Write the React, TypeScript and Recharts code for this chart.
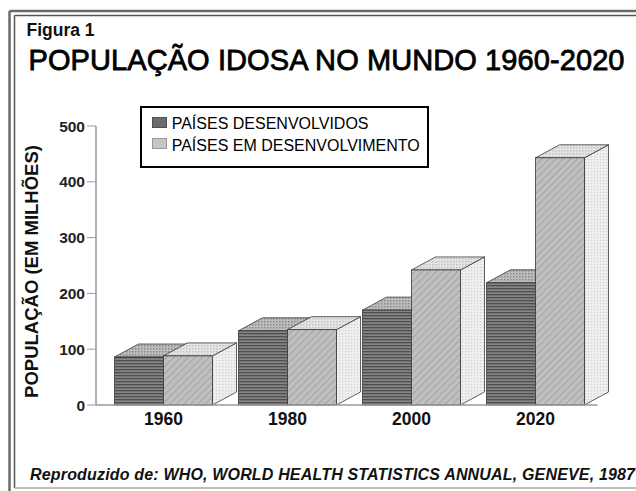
import React from 'react';
import { BarChart, Bar, XAxis, YAxis, Legend } from 'recharts';

const years = ['1960', '1980', '2000', '2020'];
const developed = [86, 133, 170, 219];
const developing = [88, 135, 242, 443];
const yTicks = [0, 100, 200, 300, 400, 500];
const seriesNames = ['PAÍSES DESENVOLVIDOS', 'PAÍSES EM DESENVOLVIMENTO'];

const data = years.map((year, i) => ({
  year,
  developed: developed[i],
  developing: developing[i],
}));

const FONT = 'Arial, "Liberation Sans", sans-serif';
const DX = 24;
const DY = 13;

function Bar3D(props: any) {
  const { x, y, width, height, front, top, side } = props;
  if (x == null || y == null || !width || height == null) return null;
  const stroke = '#3a3a3a';
  const r = x + width;
  return (
    <g>
      <polygon
        points={`${r},${y} ${r + DX},${y - DY} ${r + DX},${y + height - DY} ${r},${y + height}`}
        fill={`url(#${side})`}
        stroke={stroke}
        strokeWidth={0.8}
      />
      <polygon
        points={`${x},${y} ${x + DX},${y - DY} ${r + DX},${y - DY} ${r},${y}`}
        fill={`url(#${top})`}
        stroke={stroke}
        strokeWidth={0.8}
      />
      <rect x={x} y={y} width={width} height={height} fill={`url(#${front})`} stroke={stroke} strokeWidth={0.8} />
    </g>
  );
}

const swatchStyles = [
  { background: '#6c6c6c', border: '1px solid #505050' },
  { background: '#c6c6c6', border: '1px solid #9a9a9a' },
];

const LegendBox = () => (
  <div
    style={{
      width: 289,
      height: 62,
      border: '2px solid #000',
      boxSizing: 'border-box',
      position: 'relative',
      background: '#fff',
      fontFamily: FONT,
      fontSize: 16,
      lineHeight: '16px',
      color: '#000',
    }}
  >
    {seriesNames.map((name, i) => (
      <React.Fragment key={name}>
        <div
          style={{
            position: 'absolute',
            left: 9.7,
            top: i === 0 ? 8.7 : 30.3,
            width: 15,
            height: 11,
            boxSizing: 'border-box',
            ...swatchStyles[i],
          }}
        />
        <div style={{ position: 'absolute', left: 29.7, top: i === 0 ? 7.8 : 30, whiteSpace: 'nowrap' }}>{name}</div>
      </React.Fragment>
    ))}
  </div>
);

export default function App() {
  return (
    <div style={{ position: 'absolute', left: 0, top: 0, width: 636, height: 491, background: '#fff' }}>
      <BarChart
        width={636}
        height={491}
        data={data}
        margin={{ top: 126, right: 38.5, bottom: 56, left: 36 }}
        barGap={0}
        barSize={49}
      >
        <defs>
          <pattern id="devFront" width="4" height="3" patternUnits="userSpaceOnUse">
            <rect width="4" height="3" fill="#858585" />
            <rect width="4" height="1.3" fill="#4e4e4e" />
          </pattern>
          <pattern id="devTop" width="3" height="3" patternUnits="userSpaceOnUse">
            <rect width="3" height="3" fill="#bdbdbd" />
            <rect width="1.5" height="1.5" fill="#8a8a8a" />
          </pattern>
          <pattern id="dvgFront" width="5" height="5" patternUnits="userSpaceOnUse" patternTransform="rotate(45)">
            <rect width="5" height="5" fill="#c0c0c0" />
            <rect width="1.2" height="5" fill="#a6a6a6" />
          </pattern>
          <pattern id="dvgTop" width="3" height="3" patternUnits="userSpaceOnUse">
            <rect width="3" height="3" fill="#e4e4e4" />
            <rect width="1.5" height="1.5" fill="#c2c2c2" />
          </pattern>
          <pattern id="sideFace" width="3" height="3" patternUnits="userSpaceOnUse">
            <rect width="3" height="3" fill="#efefef" />
            <rect width="1.2" height="1.2" fill="#cfcfcf" />
          </pattern>
        </defs>

        {/* frame */}
        <line x1={9.5} y1={11} x2={9.5} y2={491} stroke="#6a6a6a" strokeWidth={2.5} />
        <line x1={9.5} y1={11} x2={636} y2={11} stroke="#6a6a6a" strokeWidth={2.5} />
        <line x1={14.5} y1={15.5} x2={14.5} y2={488} stroke="#555" strokeWidth={1.5} />
        <line x1={14.5} y1={15.5} x2={636} y2={15.5} stroke="#555" strokeWidth={1.5} />
        <line x1={14.5} y1={488} x2={636} y2={488} stroke="#aaa" strokeWidth={1.5} />

        <text x={26.5} y={36} fontFamily={FONT} fontWeight={700} fontSize={17.5} fill="#111">
          Figura 1
        </text>
        <text
          x={28.5}
          y={70}
          fontFamily={FONT}
          fontSize={29}
          fill="#000"
          stroke="#000"
          strokeWidth={0.8}
          textLength={596}
        >
          POPULAÇÃO IDOSA NO MUNDO 1960-2020
        </text>
        <text
          transform="translate(38,271.5) rotate(-90)"
          textAnchor="middle"
          fontFamily={FONT}
          fontWeight={700}
          fontSize={18.5}
          fill="#111"
        >
          POPULAÇÃO (EM MILHÕES)
        </text>
        <text
          x={30}
          y={480}
          fontFamily={FONT}
          fontWeight={700}
          fontStyle="italic"
          fontSize={16}
          fill="#111"
          textLength={605}
        >
          Reproduzido de: WHO, WORLD HEALTH STATISTICS ANNUAL, GENEVE, 1987
        </text>

        <XAxis
          dataKey="year"
          height={30}
          padding={{ left: 5.5, right: 0 }}
          axisLine={{ stroke: '#9a9a9a', strokeWidth: 1.5 }}
          tickLine={false}
          tickSize={5}
          tickMargin={2.6}
          tick={{ fontFamily: FONT, fontWeight: 700, fontSize: 17.5, fill: '#111' }}
        />
        <YAxis
          width={60}
          domain={[0, 500]}
          ticks={yTicks}
          axisLine={{ stroke: '#9a9a9a', strokeWidth: 1.5 }}
          tickLine={{ stroke: '#9a9a9a' }}
          tickSize={9}
          tickMargin={2}
          tick={{ fontFamily: FONT, fontWeight: 700, fontSize: 15.5, fill: '#222' }}
        />
        <Legend
          layout="vertical"
          verticalAlign="middle"
          align="center"
          wrapperStyle={{ position: 'absolute', left: 140, top: 106, width: 289, height: 62 }}
          content={() => <LegendBox />}
        />
        <Bar
          dataKey="developed"
          name={seriesNames[0]}
          isAnimationActive={false}
          shape={(p: any) => <Bar3D {...p} front="devFront" top="devTop" side="sideFace" />}
        />
        <Bar
          dataKey="developing"
          name={seriesNames[1]}
          isAnimationActive={false}
          shape={(p: any) => <Bar3D {...p} front="dvgFront" top="dvgTop" side="sideFace" />}
        />
      </BarChart>
    </div>
  );
}
